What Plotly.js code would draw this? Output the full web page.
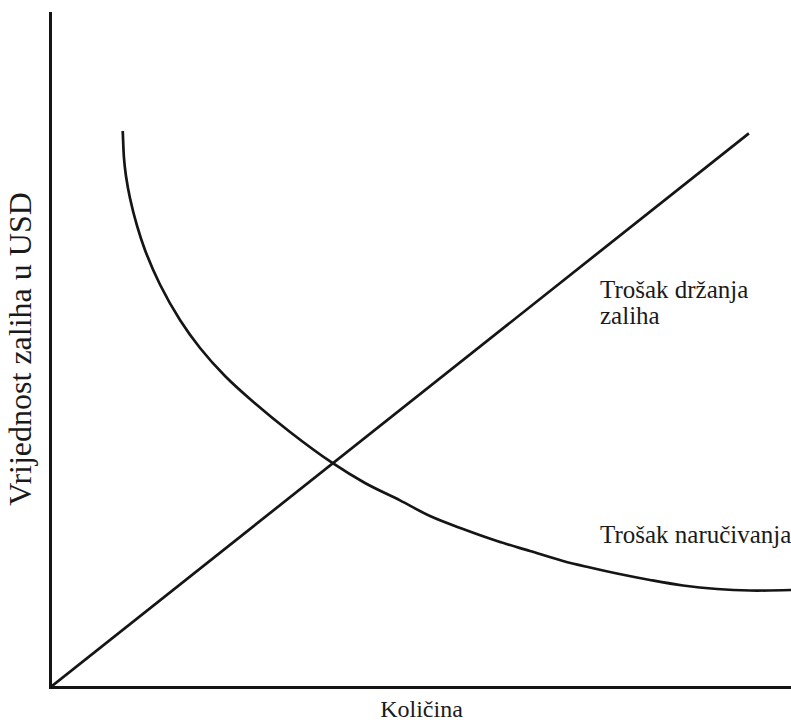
<!DOCTYPE html>
<html>
<head>
<meta charset="utf-8">
<script src="https://cdn.plot.ly/plotly-3.0.1.min.js"></script>
<style>html,body{margin:0;padding:0;background:#fff;}#chart{width:791px;height:724px;}</style>
</head>
<body>
<div id="chart"></div>
<script>
// Holding cost (straight line)
const holdingX = [0, 94.3];
const holdingY = [0, 82.0];
// Ordering cost (decreasing curve)
const orderingX = [9.57, 9.61, 9.74, 10.01, 10.55, 11.50, 12.58, 14.61, 17.32, 20.03, 23.41, 26.79, 32.21, 37.89, 42.35, 47.09, 51.15, 55.62, 60.22, 64.68, 69.15, 72.80, 76.45, 80.92, 85.39, 89.99, 94.45, 100];
const orderingY = [82.34, 81.31, 78.34, 75.67, 72.40, 68.29, 64.69, 59.57, 54.30, 50.15, 45.99, 42.58, 37.69, 33.13, 30.12, 27.54, 25.22, 23.29, 21.51, 20.03, 18.55, 17.58, 16.69, 15.73, 14.91, 14.39, 14.17, 14.24];
const holdingLabel = ["Trošak držanja", "zaliha"];
const orderingLabel = "Trošak naručivanja";
const xTitle = "Količina";
const yTitle = "Vrijednost zaliha u USD";

const FONT = "Liberation Serif, Times New Roman, serif";
const INK = "#1a1a1a";
const traces = [
  {x: holdingX, y: holdingY, mode: "lines", line: {color: "#151515", width: 2.7}, hoverinfo: "skip"},
  {x: orderingX, y: orderingY, mode: "lines", line: {color: "#151515", width: 2.7, shape: "spline", smoothing: 1}, hoverinfo: "skip"}
];
const axisBase = {showline: true, linecolor: "#151515", linewidth: 2.7, showgrid: false, zeroline: false, showticklabels: false, ticks: "", fixedrange: true};
const lab = (x, y, t) => ({x: x, y: y, xref: "x", yref: "y", text: t, showarrow: false, xanchor: "left", yanchor: "middle", align: "left", font: {family: FONT, size: 25, color: INK}});
const layout = {
  width: 791, height: 724,
  margin: {l: 52, r: 0, t: 12, b: 38},
  paper_bgcolor: "#fff", plot_bgcolor: "#fff",
  showlegend: false,
  font: {family: FONT, size: 24, color: INK},
  xaxis: Object.assign({}, axisBase, {range: [0, 100], title: {text: xTitle, standoff: 13, font: {family: FONT, size: 24, color: INK}}}),
  yaxis: Object.assign({}, axisBase, {range: [0, 100], title: {text: yTitle, standoff: 8, font: {family: FONT, size: 32, color: INK}}}),
  annotations: [
    lab(73.9, 58.83, holdingLabel[0]),
    lab(73.9, 54.97, holdingLabel[1]),
    lab(73.9, 22.48, orderingLabel)
  ]
};
Plotly.newPlot("chart", traces, layout, {displayModeBar: false, staticPlot: true});
</script>
</body>
</html>
